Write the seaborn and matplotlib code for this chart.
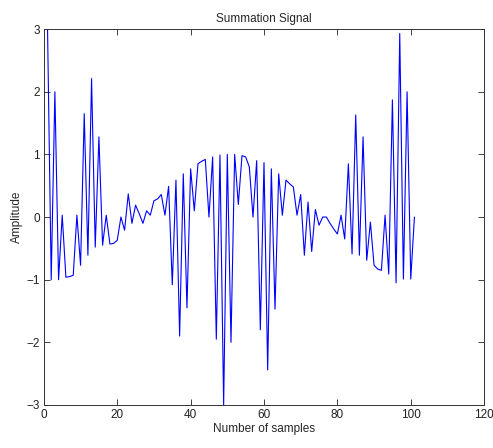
import numpy as np
import pandas as pd
import seaborn as sns
import matplotlib
matplotlib.use("Agg")
import matplotlib.pyplot as plt

# sample index 1..101
samples = list(range(1, 102))
amplitude = [
    3.0, -1.0, 2.0, -1.0, 0.03, -0.96, -0.95, -0.93, 0.03, -0.77,
    1.65, -0.61, 2.21, -0.48, 1.28, -0.45, 0.03, -0.43, -0.42, -0.37,
    0.0, -0.21, 0.37, -0.1, 0.19, 0.05, -0.1, 0.1, 0.03, 0.26,
    0.29, 0.36, 0.03, 0.49, -1.08, 0.59, -1.9, 0.69, -1.45, 0.77,
    0.1, 0.85, 0.89, 0.92, 0.0, 0.96, -1.95, 0.99, -3.0, 1.0,
    -2.0, 1.0, 0.2, 0.98, 0.96, 0.8, 0.0, 0.9, -1.8, 0.87,
    -2.44, 0.77, -1.47, 0.69, 0.03, 0.59, 0.53, 0.48, 0.03, 0.36,
    -0.61, 0.24, -0.55, 0.12, -0.13, 0.0, 0.0, -0.1, -0.19, -0.27,
    0.03, -0.35, 0.85, -0.59, 1.63, -0.61, 1.28, -0.69, -0.08, -0.77,
    -0.83, -0.85, 0.03, -0.91, 1.87, -1.05, 2.93, -0.99, 2.0, -0.99,
    0.0,
]
xticks = [0, 20, 40, 60, 80, 100, 120]
yticks = [-3, -2, -1, 0, 1, 2, 3]

df = pd.DataFrame({"n": samples, "amp": amplitude})

sns.set_style("ticks")
plt.rcParams["font.family"] = ["Liberation Sans", "DejaVu Sans"]

fig = plt.figure(figsize=(4.93, 4.48), dpi=100)
ax = fig.add_axes([0.089, 0.096, 0.893, 0.839])

sns.lineplot(data=df, x="n", y="amp", color="#0000ff", linewidth=0.8, ax=ax, sort=False)

ax.set_xlim(0, 120)
ax.set_ylim(-3, 3)
ax.set_xticks(xticks)
ax.set_yticks(yticks)
ax.tick_params(direction="in", top=True, right=True, length=4, width=0.6,
               labelsize=8.5, colors="#222222", pad=3)
for s in ax.spines.values():
    s.set_visible(True)
    s.set_linewidth(0.7)
    s.set_color("#333333")

ax.set_title("Summation Signal", fontsize=8.5, pad=5)
ax.set_xlabel("Number of samples", fontsize=8.5, labelpad=1)
ax.set_ylabel("Amplitude", fontsize=8.5, labelpad=2)

fig.savefig("out.png", dpi=100, facecolor="white")
